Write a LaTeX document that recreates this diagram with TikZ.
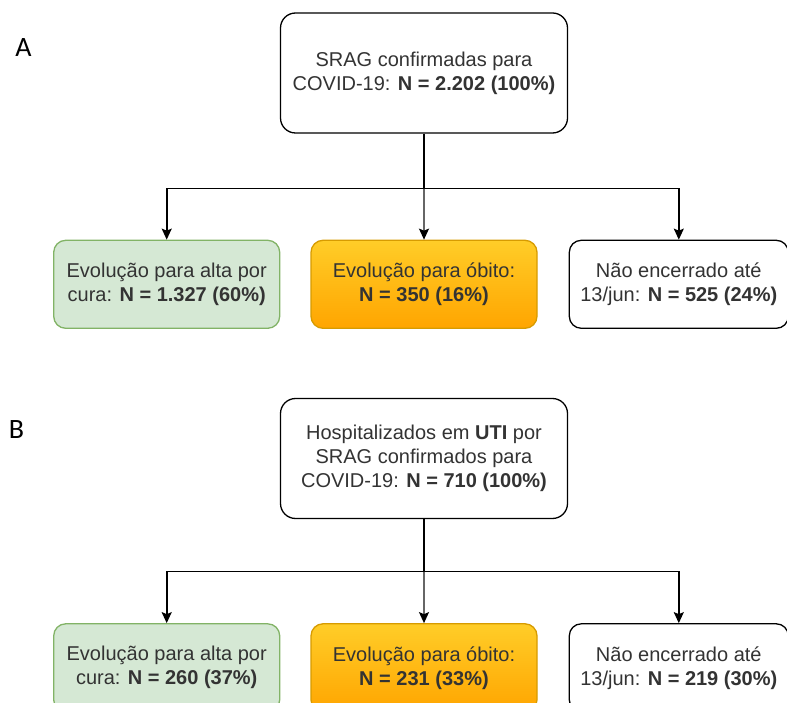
\documentclass[tikz,border=0pt]{standalone}
\usepackage{fontspec}
\setmainfont{Liberation Sans}
\newfontfamily\panelfont{Carlito}
\usetikzlibrary{arrows.meta, positioning}
\definecolor{covgreen}{HTML}{d5e8d4}
\definecolor{covgreenline}{HTML}{82b366}
\definecolor{covyellow}{HTML}{ffcd28}
\definecolor{covorange}{HTML}{ffa500}
\definecolor{covorangeline}{HTML}{d79b00}
\definecolor{covtext}{HTML}{333333}

\begin{document}
\begin{tikzpicture}[
    x=1pt, y=-1pt,
    every node/.style={font=\fontsize{20}{24}\selectfont, text=covtext},
    head/.style={draw, line width=1.3pt, rectangle, rounded corners=15pt, fill=white, align=center, minimum width=287pt, minimum height=120pt},
    outcome/.style={draw, line width=1.3pt, rectangle, rounded corners=12pt, align=center, minimum width=226pt, minimum height=88pt, inner sep=0pt},
    altabox/.style={outcome, fill=covgreen, draw=covgreenline},
    obitobox/.style={outcome, top color=covyellow, bottom color=covorange, draw=covorangeline},
    abertobox/.style={outcome, fill=white, minimum width=219pt},
    panel/.style={font=\panelfont\fontsize{28}{30}\selectfont, text=black},
    arrow/.style={-{Stealth[length=11pt, width=10pt, inset=2pt, color=black]}, line width=1.6pt}
]
\clip (0,0) rectangle (787,703);

% Panel A
\node[panel] (labA) at (23.5,47.5) {A};
\node[head] (srag) at (424,73) {SRAG confirmadas para\\COVID-19: \textbf{N = 2.202 (100\%)}};
\node[obitobox, below=106pt of srag] (obitoA) {Evolução para óbito:\\\textbf{N = 350 (16\%)}};
\node[altabox, left=30pt of obitoA] (altaA) {Evolução para alta por\\cura: \textbf{N = 1.327 (60\%)}};
\node[abertobox, right=31pt of obitoA] (abertoA) {Não encerrado até\\13/jun: \textbf{N = 525 (24\%)}};
\coordinate[below=55pt of srag] (splitA);

% Panel B
\node[panel] (labB) at (16.5,429.5) {B};
\node[head] (uti) at (424,458.5) {Hospitalizados em \textbf{UTI} por\\SRAG confirmados para\\COVID-19: \textbf{N = 710 (100\%)}};
\node[obitobox, below=104pt of uti] (obitoB) {Evolução para óbito:\\\textbf{N = 231 (33\%)}};
\node[altabox, left=30pt of obitoB] (altaB) {Evolução para alta por\\cura: \textbf{N = 260 (37\%)}};
\node[abertobox, right=31pt of obitoB] (abertoB) {Não encerrado até\\13/jun: \textbf{N = 219 (30\%)}};
\coordinate[below=52.5pt of uti] (splitB);

% Connections
\draw[line width=2pt] (srag) -- (splitA);
\draw[arrow] (splitA) -| (altaA);
\draw[arrow] (splitA) -| (abertoA);
\draw[arrow, black!60] (splitA) -- (obitoA);

\draw[line width=2pt] (uti) -- (splitB);
\draw[arrow] (splitB) -| (altaB);
\draw[arrow] (splitB) -| (abertoB);
\draw[arrow, black!60] (splitB) -- (obitoB);

\end{tikzpicture}
\end{document}
